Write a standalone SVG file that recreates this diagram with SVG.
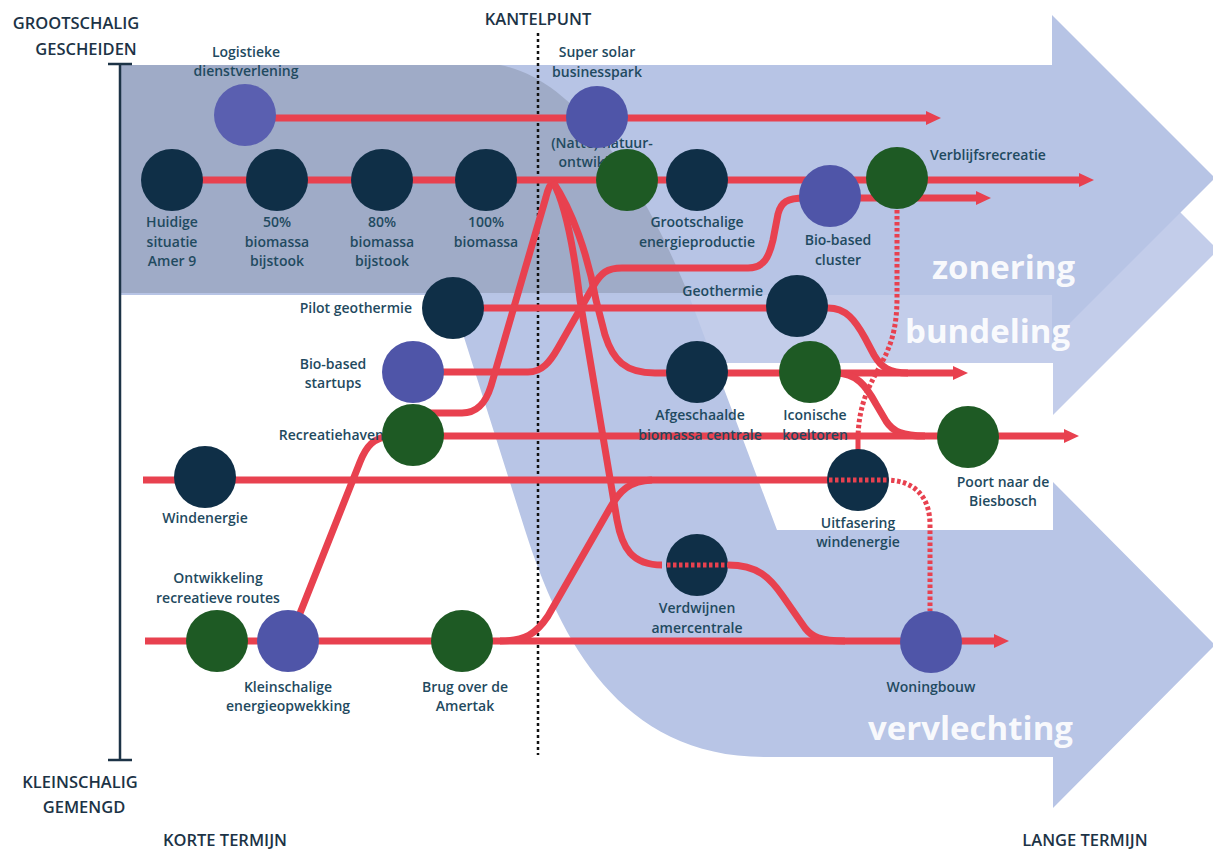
<svg xmlns="http://www.w3.org/2000/svg" width="1213" height="852" viewBox="0 0 1213 852">
<defs>
<style>
.ln{fill:none;stroke:#e8414f;stroke-width:7}
.dt{fill:none;stroke:#e8414f;stroke-width:5;stroke-dasharray:3.5 2.5}
.nv{fill:#0f2f47}.gr{fill:#1e5a24}.bl{fill:#4f55a8}
.lb{font-family:"Open Sans","Liberation Sans",sans-serif;font-weight:600;font-size:14px;fill:#1f4a60;text-anchor:middle}
.ls{text-anchor:start}.le{text-anchor:end}
.ax{font-family:"Open Sans","Liberation Sans",sans-serif;font-weight:600;font-size:16.5px;fill:#1c3346;text-anchor:middle}
.big{font-family:"Open Sans","Liberation Sans",sans-serif;font-weight:700;font-size:33px;fill:#ffffff;fill-opacity:0.92}
</style>
<marker id="ah" markerUnits="userSpaceOnUse" markerWidth="16" markerHeight="16" viewBox="0 0 16 16" refX="0" refY="8" orient="auto">
<path d="M0,1 L15,8 L0,15 Z" fill="#e8414f"/>
</marker>
</defs>
<rect width="1213" height="852" fill="#ffffff"/>
<g id="background">
<path d="M450,295 H1053 V85 L1218,250 L1053,415 V363 H700 Z" fill="#c3cdea"/>
<path d="M120,65 H500 C580,80 645,190 688,293 L777,530 H1053 V482 L1215,645 L1053,808 V757 H765 C620,757 560,640 525,530 L450,293 H120 Z" fill="#b8c5e6"/>
<path d="M120,65 H1052 V15 L1215,178 L1052,341 V295 H120 Z" fill="#b7c4e5"/>
<path d="M120,65 H500 C580,80 645,190 688,293 H120 Z" fill="#9fabc7"/>
</g>
<g id="axis">
<line x1="120" y1="64" x2="120" y2="760" stroke="#1c3346" stroke-width="2.5"/>
<line x1="108" y1="64" x2="132" y2="64" stroke="#1c3346" stroke-width="2.5"/>
<line x1="108" y1="760" x2="132" y2="760" stroke="#1c3346" stroke-width="2.5"/>
<line x1="538" y1="33" x2="538" y2="755" stroke="#111" stroke-width="2.5" stroke-dasharray="3 3"/>
<text class="ax" x="76" y="29">GROOTSCHALIG</text>
<text class="ax" x="86" y="55">GESCHEIDEN</text>
<text class="ax" x="538" y="25">KANTELPUNT</text>
<text class="ax" x="80" y="788">KLEINSCHALIG</text>
<text class="ax" x="84" y="813">GEMENGD</text>
<text class="ax" x="225" y="846">KORTE TERMIJN</text>
<text class="ax" x="1085" y="846">LANGE TERMIJN</text>
</g>
<g id="connectors">
<path class="ln" d="M245,118 H926" marker-end="url(#ah)"/>
<path class="ln" d="M172,180 H1079" marker-end="url(#ah)"/>
<path class="ln" d="M413,372 H528 C542,372 550,362 558,348 L594,285 C601,273 607,268 622,268 H748 C764,268 769,257 773,240 L778,214 C781,202 787,198 805,198 H976" marker-end="url(#ah)"/>
<path class="ln" d="M425,413 H462 C478,413 486,402 491,386 L546,197 C548,189 550,184 553,182"/>
<path class="ln" d="M553,182 C566,205 574,250 580,300 L617,520 C622,548 632,565 662,565"/>
<path class="ln" d="M728,565 C758,565 770,578 782,595 L805,628 C812,637 820,641 845,641"/>
<path class="ln" d="M553,182 C572,210 588,255 596,300 L605,335 C613,360 625,373 655,373 H953" marker-end="url(#ah)"/>
<path class="ln" d="M453,308 H828 C846,308 855,320 865,338 L874,355 C881,367 889,373 908,373"/>
<path class="ln" d="M835,373 C857,373 866,386 876,404 L886,421 C893,432 903,436 925,436"/>
<path class="ln" d="M413,436 H1064" marker-end="url(#ah)"/>
<path class="ln" d="M143,480 H858"/>
<path class="ln" d="M145,641 H994" marker-end="url(#ah)"/>
<path class="ln" d="M289,641 L360,462 C366,447 373,437 392,436"/>
<path class="ln" d="M500,641 C525,641 536,634 548,616 L610,508 C620,490 630,481 652,480"/>
<path class="dt" d="M897,210 V298 C897,330 890,348 880,366 C868,388 859,405 858,437"/>
<path class="ln" d="M858,436 V452" style="stroke-width:5"/>
<path class="dt" d="M885,480 C915,480 930,497 930,525 V611"/>
</g>
<g id="n-logistiek"><text class="lb" x="246" y="57">Logistieke</text><text class="lb" x="246" y="76">dienstverlening</text><circle class="bl" cx="245" cy="115" r="31" style="fill:#5a5fb0"/></g>
<g id="n-natte"><text class="lb" x="602" y="148">(Natte) natuur-</text><text class="lb" x="602" y="167">ontwikkeling</text><circle class="gr" cx="627" cy="180" r="31"/></g>
<g id="n-supersolar"><text class="lb" x="597" y="57">Super solar</text><text class="lb" x="597" y="77">businesspark</text><circle class="bl" cx="597" cy="117" r="31"/></g>
<g id="n-huidige"><circle class="nv" cx="172" cy="180" r="31"/><text class="lb" x="172" y="227">Huidige</text><text class="lb" x="172" y="247">situatie</text><text class="lb" x="172" y="266">Amer 9</text></g>
<g id="n-50"><circle class="nv" cx="277" cy="180" r="31"/><text class="lb" x="277" y="227">50%</text><text class="lb" x="277" y="247">biomassa</text><text class="lb" x="277" y="266">bijstook</text></g>
<g id="n-80"><circle class="nv" cx="382" cy="180" r="31"/><text class="lb" x="382" y="227">80%</text><text class="lb" x="382" y="247">biomassa</text><text class="lb" x="382" y="266">bijstook</text></g>
<g id="n-100"><circle class="nv" cx="486" cy="180" r="31"/><text class="lb" x="486" y="227">100%</text><text class="lb" x="486" y="247">biomassa</text></g>
<g id="n-grootschalig"><circle class="nv" cx="697" cy="180" r="31"/><text class="lb" x="697" y="227">Grootschalige</text><text class="lb" x="697" y="247">energieproductie</text></g>
<g id="n-biocluster"><circle class="bl" cx="830" cy="196" r="31"/><text class="lb" x="838" y="245">Bio-based</text><text class="lb" x="838" y="265">cluster</text></g>
<g id="n-verblijf"><circle class="gr" cx="897" cy="178" r="31"/><text class="lb ls" x="930" y="160">Verblijfsrecreatie</text></g>
<g id="n-pilot"><circle class="nv" cx="453" cy="308" r="31"/><text class="lb le" x="412" y="313">Pilot geothermie</text></g>
<g id="n-geothermie"><circle class="nv" cx="797" cy="306" r="31"/><text class="lb le" x="763" y="296">Geothermie</text></g>
<g id="n-biostartups"><circle class="bl" cx="413" cy="372" r="31"/><text class="lb" x="333" y="369">Bio-based</text><text class="lb" x="333" y="388">startups</text></g>
<g id="n-recreatiehaven"><text class="lb le" x="384" y="440">Recreatiehaven</text><circle class="gr" cx="413" cy="435" r="31"/></g>
<g id="n-afgeschaald"><circle class="nv" cx="697" cy="372" r="31"/><text class="lb" x="700" y="420">Afgeschaalde</text><text class="lb" x="700" y="440">biomassa centrale</text></g>
<g id="n-koeltoren"><circle class="gr" cx="810" cy="372" r="31"/><text class="lb" x="815" y="420">Iconische</text><text class="lb" x="815" y="440">koeltoren</text></g>
<g id="n-poort"><circle class="gr" cx="968" cy="437" r="31"/><text class="lb" x="1003" y="487">Poort naar de</text><text class="lb" x="1003" y="506">Biesbosch</text></g>
<g id="n-wind"><circle class="nv" cx="205" cy="477" r="31"/><text class="lb" x="205" y="523">Windenergie</text></g>
<g id="n-uitfasering"><circle class="nv" cx="858" cy="480" r="31"/><path class="dt" d="M829,480 H887"/><text class="lb" x="858" y="528">Uitfasering</text><text class="lb" x="858" y="547">windenergie</text></g>
<g id="n-verdwijnen"><circle class="nv" cx="697" cy="565" r="31"/><path class="dt" d="M667,565 H728"/><text class="lb" x="697" y="613">Verdwijnen</text><text class="lb" x="697" y="633">amercentrale</text></g>
<g id="n-ontwikkeling"><circle class="gr" cx="217" cy="641" r="31"/><text class="lb" x="218" y="583">Ontwikkeling</text><text class="lb" x="218" y="603">recreatieve routes</text></g>
<g id="n-kleinschalig"><circle class="bl" cx="288" cy="641" r="31"/><text class="lb" x="288" y="692">Kleinschalige</text><text class="lb" x="288" y="711">energieopwekking</text></g>
<g id="n-brug"><circle class="gr" cx="462" cy="641" r="31"/><text class="lb" x="465" y="692">Brug over de</text><text class="lb" x="465" y="711">Amertak</text></g>
<g id="n-woningbouw"><circle class="bl" cx="931" cy="642" r="31"/><text class="lb" x="931" y="692">Woningbouw</text></g>
<g id="words">
<text class="big" x="932" y="279">zonering</text>
<text class="big" x="905" y="343">bundeling</text>
<text class="big" x="868" y="740">vervlechting</text>
</g>
</svg>
